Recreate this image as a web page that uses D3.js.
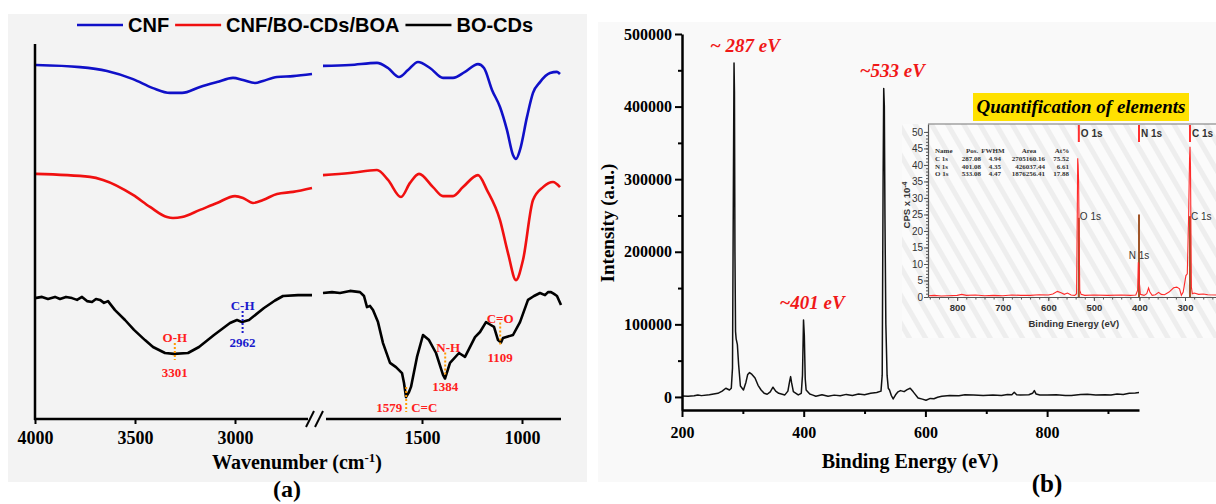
<!DOCTYPE html>
<html>
<head>
<meta charset="utf-8">
<script src="https://cdn.jsdelivr.net/npm/d3@7"></script>
<style>
  body { margin: 0; background: #fff; }
  svg { display: block; }
</style>
</head>
<body>
<svg id="fig" width="1216" height="504"></svg>
<script>
// ---- panel (a): FTIR, [wavenumber, offset transmittance (a.u.)] ----
const seriesNames = ['CNF', 'CNF/BO-CDs/BOA', 'BO-CDs'];
const wnTicksHigh = [4000, 3500, 3000];
const wnTicksLow = [1500, 1000];

const cnfHigh = [[3995,118],[3775,117.3],[3640,116],[3510,113.3],[3410,110.3],[3325,108.7],[3265,108.7],[3175,110.7],[3090,112.3],[3010,113.7],[2960,113],[2900,112],[2860,112.7],[2790,114],[2710,114.3],[2615,115]];
const cnfLow = [[1995,117.7],[1860,118],[1725,118.7],[1670,117],[1615,114],[1570,116.3],[1520,119],[1460,117],[1395,113.7],[1345,113.7],[1285,115.7],[1220,118.3],[1190,117],[1150,109.7],[1110,104],[1075,96.3],[1045,88],[1030,86.7],[1010,89.7],[975,100.7],[945,108.7],[910,112.3],[860,115.3],[825,115.7],[810,115]];
const compHigh = [[3995,81.7],[3725,80.7],[3660,79.7],[3510,74.7],[3425,70.7],[3340,67.3],[3310,67],[3265,67.3],[3175,69.7],[3090,72],[3000,74.3],[2960,73.7],[2910,72],[2860,73],[2790,75],[2710,75.7],[2615,77]];
const compLow = [[1995,81.3],[1860,82],[1725,83],[1670,79.7],[1605,74],[1560,78.7],[1515,81.7],[1445,77.3],[1395,74.3],[1345,74.3],[1295,77.3],[1220,81.3],[1175,76.3],[1110,66.3],[1070,55.3],[1030,46.3],[995,53],[945,73],[895,77.3],[845,79],[810,77.3]];
const cdsHigh = [[4000,40.3],[3965,40.7],[3935,40],[3900,40.7],[3875,40],[3845,40.7],[3815,40.3],[3790,39.7],[3765,40.7],[3740,39.3],[3715,39],[3695,40],[3675,39.7],[3655,38.7],[3635,39.3],[3600,36.3],[3550,33],[3505,29.7],[3450,26.3],[3410,24],[3350,22],[3305,21.7],[3235,22],[3180,24],[3105,28],[3025,32],[2990,33],[2965,32.3],[2930,33],[2855,37],[2800,39.5],[2760,41],[2685,41.3],[2615,41.3]];
const cdsLow = [[1995,42],[1950,42.3],[1910,42],[1860,42.7],[1810,42.3],[1790,41],[1775,37.3],[1760,37.7],[1745,36.3],[1720,32.3],[1695,25.3],[1660,18.7],[1630,17.3],[1600,15.3],[1590,12],[1580,7.3],[1565,9],[1555,10.7],[1525,20.7],[1495,28],[1465,26.3],[1430,22],[1395,14.7],[1385,13.5],[1360,18.7],[1315,22],[1285,20.7],[1235,27.3],[1210,29],[1180,32.3],[1160,31.5],[1140,30.7],[1120,26.3],[1105,25.5],[1095,27],[1045,28],[1010,32.3],[970,39.7],[940,41],[910,42],[885,41.3],[870,42.3],[855,42.3],[840,41.7],[825,41],[805,38]];

// band assignments on the BO-CDs trace
const bandWn = [3301, 2962, 1579, 1384, 1109];
const bandNames = ['O-H', 'C-H', 'C=C', 'N-H', 'C=O'];

// ---- panel (b): XPS survey, [binding energy eV, counts] ----
const beTicks = [200, 400, 600, 800];
const beMinor = [300, 500, 700, 900];
const cpsTicks = [0, 100000, 200000, 300000, 400000, 500000];
const cpsMinor = [50000, 150000, 250000, 350000, 450000];
const xps = [[200,1400],[210,1000],[220,1500],[226,2800],[232,1800],[245,3000],[259,5000],[266,8000],[272,12000],[278,9600],[281,12000],[283,40000],[284.5,300000],[285.5,460000],[286.2,420000],[287,200000],[288,90000],[289,80000],[291,72000],[293,45000],[296,15000],[301,9600],[305,20000],[308,31000],[311,33500],[315,31000],[320,26000],[325,16000],[330,9600],[335,5000],[340,3700],[345,7000],[349.5,13400],[354,8000],[359,5000],[369,2800],[374,8000],[377,22000],[378.5,28000],[380,20000],[383,7300],[391,2800],[396,5000],[398,30000],[399.7,106000],[401,85000],[402.5,25000],[404,9600],[410,4000],[414,2800],[420,1000],[430,3000],[440,1000],[450,2500],[460,1500],[470,3500],[480,2000],[490,4000],[500,3000],[510,5000],[520,6000],[527,8000],[529,30000],[530.5,300000],[531.5,425000],[532.5,400000],[533.5,250000],[535,100000],[537,30000],[539,12000],[541,9600],[544,2000],[547,-2800],[551,3000],[555,7000],[559,8700],[565,7300],[570,10000],[575,12000],[580,7000],[588,-1400],[595,-3000],[601,-4600],[608,-2000],[614,-2400],[620,-500],[627,800],[640,2000],[655,1500],[665,3000],[679,2800],[695,2000],[711,2800],[725,2000],[735,3500],[742,3000],[746,6400],[750,3000],[756,2800],[770,3000],[776,5000],[779,8700],[782,4000],[788,2800],[800,2500],[815,3000],[830,2000],[840,2000],[855,3500],[866,3700],[880,2500],[895,3000],[905,2800],[915,4000],[925,3500],[935,5000],[945,5500],[951,6000]];
const peakBE = [285.5, 531.5, 399.7];
const peakCounts = [460000, 425000, 106000];
const peakLabels = ['~ 287 eV', '~533 eV', '~401 eV'];

// ---- inset: quantification, [BE, CPS x 1e-4] ----
const insetTicksX = [800, 700, 600, 500, 400, 300];
const insetTicksY = [0, 5, 10, 15, 20, 25, 30, 35, 40, 45, 50];
const insetSpec = [[864,0.4],[850,0.5],[835,0.3],[820,0.4],[800,0.5],[790,0.8],[780,0.5],[760,0.6],[740,0.4],[720,0.5],[700,0.4],[680,0.6],[660,0.5],[640,0.5],[620,0.7],[600,0.6],[590,0.9],[580,1.7],[572,1.3],[565,0.8],[558,1.2],[550,0.6],[542,0.5],[538,1],[536.5,24],[535.5,42],[534.5,40],[533.5,35],[532.5,20],[531,2],[528,0.8],[520,0.5],[500,0.6],[470,0.5],[440,0.6],[420,0.5],[408,0.6],[404,2],[402.5,10.5],[401.5,10],[400,4],[398,0.8],[390,0.5],[384,1],[380,2.7],[377,1.5],[372,0.5],[365,0.7],[358,1.4],[352,0.8],[345,0.7],[335,1.5],[325,2.8],[318,3],[312,2.5],[308,0.5],[304,1.5],[298,6.5],[295,7],[292,25],[290,42],[289,45.5],[288,40],[287,20],[286,3],[284,1],[280,1.2],[270,0.8],[260,0.9],[250,0.7],[232,0.6]];
const quantNames = ['C 1s', 'N 1s', 'O 1s'];
const quantPos = ['287.08', '401.08', '533.08'];
const quantFwhm = ['4.94', '4.35', '4.47'];
const quantArea = ['2705160.16', '426037.44', '1876256.41'];
const quantAt = ['75.52', '6.61', '17.88'];
const markerBE = [289, 401, 533];   // C 1s, N 1s, O 1s component lines
const markerHeight = [24.5, 25, 24];

const SERIF = '"Liberation Serif", "Times New Roman", serif';
const SANS = '"Liberation Sans", Arial, sans-serif';

const svg = d3.select('#fig');

// backgrounds
svg.append('rect').attr('x', 8).attr('y', 14).attr('width', 579).attr('height', 468).attr('fill', '#f3f3f3');
svg.append('rect').attr('x', 598).attr('y', 22).attr('width', 618).attr('height', 460).attr('fill', '#f9f9f9');

// ================= panel (a) =================
const xHigh = d3.scaleLinear().domain([4000, 2600]).range([35, 315]);
const xLow = d3.scaleLinear().domain([2000, 800]).range([322, 562]);
const yA = d3.scaleLinear().domain([0, 125]).range([419, 44]);
const colorsA = ['#1010c8', '#f01010', '#000'];

const lineHigh = d3.line().x(d => xHigh(d[0])).y(d => yA(d[1])).curve(d3.curveMonotoneX);
const lineLow = d3.line().x(d => xLow(d[0])).y(d => yA(d[1])).curve(d3.curveMonotoneX);
const blackHigh = d3.line().x(d => xHigh(d[0])).y(d => yA(d[1]));
const blackLow = d3.line().x(d => xLow(d[0])).y(d => yA(d[1]));

const gA = svg.append('g');
[[cnfHigh, cnfLow], [compHigh, compLow]].forEach((pair, i) => {
  gA.append('path').attr('d', lineHigh(pair[0])).attr('fill', 'none').attr('stroke', colorsA[i]).attr('stroke-width', 2.6);
  gA.append('path').attr('d', lineLow(pair[1])).attr('fill', 'none').attr('stroke', colorsA[i]).attr('stroke-width', 2.6);
});
gA.append('path').attr('d', blackHigh(cdsHigh)).attr('fill', 'none').attr('stroke', '#000').attr('stroke-width', 2.6).attr('stroke-linejoin', 'round');
gA.append('path').attr('d', blackLow(cdsLow)).attr('fill', 'none').attr('stroke', '#000').attr('stroke-width', 2.6).attr('stroke-linejoin', 'round');

// axes
const axY = yA(0);
gA.append('line').attr('x1', xHigh(4000)).attr('x2', xHigh(4000)).attr('y1', yA(125)).attr('y2', axY + 1).attr('stroke', '#000').attr('stroke-width', 2.5);
gA.append('line').attr('x1', xHigh(4000) - 1).attr('x2', 308).attr('y1', axY).attr('y2', axY).attr('stroke', '#000').attr('stroke-width', 2.5);
gA.append('line').attr('x1', 326).attr('x2', xLow(805)).attr('y1', axY).attr('y2', axY).attr('stroke', '#000').attr('stroke-width', 2.5);
// break marks
[306, 315].forEach(bx => {
  gA.append('line').attr('x1', bx).attr('y1', axY + 8).attr('x2', bx + 8).attr('y2', axY - 8).attr('stroke', '#000').attr('stroke-width', 2);
});

const axHigh = gA.append('g').attr('transform', `translate(0,${axY})`)
  .call(d3.axisBottom(xHigh).tickValues(wnTicksHigh).tickSize(5).tickSizeOuter(0).tickFormat(d3.format('d')));
const axLow = gA.append('g').attr('transform', `translate(0,${axY})`)
  .call(d3.axisBottom(xLow).tickValues(wnTicksLow).tickSize(5).tickSizeOuter(0).tickFormat(d3.format('d')));
[axHigh, axLow].forEach(ax => {
  ax.select('.domain').remove();
  ax.selectAll('line').attr('stroke-width', 2);
  ax.selectAll('text').attr('font-family', SERIF).attr('font-weight', 'bold').attr('font-size', 18).attr('dy', '0.95em').attr('fill', '#000');
});

gA.append('text').attr('x', 297).attr('y', 469).attr('text-anchor', 'middle')
  .attr('font-family', SERIF).attr('font-weight', 'bold').attr('font-size', 20)
  .call(t => {
    t.append('tspan').text('Wavenumber (cm');
    t.append('tspan').attr('baseline-shift', 'super').attr('font-size', 13).text('-1');
    t.append('tspan').text(')');
  });
gA.append('text').attr('x', 287).attr('y', 497).attr('text-anchor', 'middle')
  .attr('font-family', SERIF).attr('font-weight', 'bold').attr('font-size', 24).text('(a)');

// legend
const leg = svg.append('g');
let lx = 77;
seriesNames.forEach((name, i) => {
  leg.append('line').attr('x1', lx).attr('x2', lx + 46).attr('y1', 25).attr('y2', 25).attr('stroke', colorsA[i]).attr('stroke-width', 2.6);
  const t = leg.append('text').attr('x', lx + 51).attr('y', 32).attr('font-family', SANS).attr('font-weight', 'bold').attr('font-size', 20).text(name);
  lx += 51 + t.node().getComputedTextLength() + 6;
});

// band annotations
const bandLayout = {
  'O-H': { dx: 0, name: -16, top: -11, bot: 6, num: 19, color: '#ff2020', line: '#ff9900' },
  'C-H': { dx: 0, name: -17, top: -11, bot: 11, num: 20, color: '#1a1acc', line: '#1a1acc' },
  'C=C': { side: true, top: -10, bot: 15, color: '#ff2020', line: '#ff9900' },
  'N-H': { dx: 3, name: -31, top: -26, bot: -3, num: 8, color: '#ff2020', line: '#ff9900' },
  'C=O': { dx: 0, name: -24, top: -20, bot: 3, num: 15, color: '#ff2020', line: '#ff9900' }
};
const cdsAll = cdsHigh.concat(cdsLow);
bandWn.forEach((wn, i) => {
  const name = bandNames[i];
  const lay = bandLayout[name];
  const bx = wn > 2300 ? xHigh(wn) : xLow(wn);
  // nearest curve value
  const near = cdsAll.reduce((a, b) => Math.abs(b[0] - wn) < Math.abs(a[0] - wn) ? b : a);
  const by = yA(near[1]);
  gA.append('line').attr('x1', bx).attr('x2', bx).attr('y1', by + lay.top).attr('y2', by + lay.bot)
    .attr('stroke', lay.line).attr('stroke-width', 2).attr('stroke-dasharray', '2,2');
  const txt = (s, x, y, anchor) => gA.append('text').attr('x', x).attr('y', y).attr('text-anchor', anchor)
    .attr('dominant-baseline', 'central').attr('font-family', SERIF).attr('font-weight', 'bold')
    .attr('font-size', 13).attr('fill', lay.color).text(s);
  if (lay.side) {
    txt(wn, bx - 4, by + 10, 'end');
    txt(name, bx + 5, by + 10, 'start');
  } else {
    txt(name, bx + lay.dx, by + lay.name, 'middle');
    txt(wn, bx, by + lay.num, 'middle');
  }
});

// ================= panel (b) =================
const xB = d3.scaleLinear().domain([200, 951]).range([682, 1139]);
const yB = d3.scaleLinear().domain([-18000, 500000]).range([410, 34]);
const gB = svg.append('g');

gB.append('path').datum(xps)
  .attr('d', d3.line().x(d => xB(d[0])).y(d => yB(d[1])))
  .attr('fill', 'none').attr('stroke', '#111').attr('stroke-width', 1.5).attr('stroke-linejoin', 'round');

const axBx = gB.append('g').attr('transform', `translate(0,${yB.range()[0]})`)
  .call(d3.axisBottom(xB).tickValues(beTicks).tickSize(7).tickSizeOuter(0));
gB.append('g').attr('transform', `translate(0,${yB.range()[0]})`)
  .call(d3.axisBottom(xB).tickValues(beMinor).tickSize(4).tickFormat('').tickSizeOuter(0))
  .call(g => g.select('.domain').remove()).selectAll('line').attr('stroke-width', 2);
const axBy = gB.append('g').attr('transform', `translate(${xB.range()[0]},0)`)
  .call(d3.axisLeft(yB).tickValues(cpsTicks).tickSize(7).tickSizeOuter(0).tickFormat(d3.format('d')));
gB.append('g').attr('transform', `translate(${xB.range()[0]},0)`)
  .call(d3.axisLeft(yB).tickValues(cpsMinor).tickSize(4).tickFormat('').tickSizeOuter(0))
  .call(g => g.select('.domain').remove()).selectAll('line').attr('stroke-width', 2);
[axBx, axBy].forEach(ax => {
  ax.select('.domain').attr('stroke-width', 2.5);
  ax.selectAll('.tick line').attr('stroke-width', 2);
  ax.selectAll('text').attr('font-family', SERIF).attr('font-weight', 'bold').attr('font-size', 16).attr('fill', '#000');
});
axBx.selectAll('text').attr('dy', '1.15em');
axBy.selectAll('text').attr('x', -10);

gB.append('text').attr('transform', 'translate(614,223) rotate(-90)').attr('text-anchor', 'middle')
  .attr('font-family', SERIF).attr('font-weight', 'bold').attr('font-size', 19).text('Intensity (a.u.)');
gB.append('text').attr('x', 910).attr('y', 468).attr('text-anchor', 'middle')
  .attr('font-family', SERIF).attr('font-weight', 'bold').attr('font-size', 20).text('Binding Energy (eV)');
gB.append('text').attr('x', 1047).attr('y', 492).attr('text-anchor', 'middle')
  .attr('font-family', SERIF).attr('font-weight', 'bold').attr('font-size', 25).text('(b)');

peakBE.forEach((be, i) => {
  gB.append('text').attr('x', xB(be) - 24).attr('y', yB(peakCounts[i]) - 11)
    .attr('font-family', SERIF).attr('font-weight', 'bold').attr('font-style', 'italic')
    .attr('font-size', 19).attr('fill', '#f01818').text(peakLabels[i]);
});

// ================= inset =================
const defs = svg.append('defs');
const pat = defs.append('pattern').attr('id', 'hatch').attr('patternUnits', 'userSpaceOnUse')
  .attr('width', 14).attr('height', 14).attr('patternTransform', 'rotate(-30)');
pat.append('rect').attr('width', 14).attr('height', 14).attr('fill', '#fbfbfb');
pat.append('rect').attr('width', 5).attr('height', 14).attr('fill', '#eeeeee');

const gI = svg.append('g');
gI.append('rect').attr('x', 902).attr('y', 124).attr('width', 314).attr('height', 214).attr('fill', 'url(#hatch)');

const xI = d3.scaleLinear().domain([864, 232]).range([928, 1216]);
const yI = d3.scaleLinear().domain([0, 52.4]).range([297, 124]);

gI.append('line').attr('x1', xI.range()[0]).attr('x2', 1216).attr('y1', 124).attr('y2', 124).attr('stroke', '#777').attr('stroke-width', 1.2);

// component lines
markerBE.forEach((be, i) => {
  gI.append('line').attr('x1', xI(be)).attr('x2', xI(be)).attr('y1', yI(0)).attr('y2', yI(markerHeight[i]))
    .attr('stroke', '#a0562a').attr('stroke-width', 2);
});

gI.append('path').datum(insetSpec)
  .attr('d', d3.line().x(d => xI(d[0])).y(d => yI(d[1])))
  .attr('fill', 'none').attr('stroke', '#ff2a2a').attr('stroke-width', 1.1);

// top markers + labels
const markerNames = ['C 1s', 'N 1s', 'O 1s'];
markerBE.forEach((be, i) => {
  const mx = xI(be);
  gI.append('line').attr('x1', mx).attr('x2', mx).attr('y1', 125).attr('y2', 142).attr('stroke', '#ff3030').attr('stroke-width', 2);
  gI.append('text').attr('x', mx + 2).attr('y', 137).attr('font-family', SANS).attr('font-weight', 'bold')
    .attr('font-size', 10).attr('fill', '#333').text(markerNames[i]);
});
// in-plot peak labels
gI.append('text').attr('x', xI(533) + 1).attr('y', yI(23.3)).attr('font-family', SANS).attr('font-size', 10).attr('fill', '#333').text('O 1s');
gI.append('text').attr('x', xI(289) + 1).attr('y', yI(23.3)).attr('font-family', SANS).attr('font-size', 10).attr('fill', '#333').text('C 1s');
gI.append('text').attr('x', xI(401)).attr('y', yI(11.5)).attr('text-anchor', 'middle').attr('font-family', SANS).attr('font-size', 10).attr('fill', '#333').text('N 1s');

const axIx = gI.append('g').attr('transform', `translate(0,${yI(0)})`)
  .call(d3.axisBottom(xI).tickValues(insetTicksX).tickSize(4).tickSizeOuter(0));
gI.append('g').attr('transform', `translate(0,${yI(0)})`)
  .call(d3.axisBottom(xI).tickValues(d3.range(860, 230, -20)).tickSize(2.5).tickFormat('').tickSizeOuter(0))
  .call(g => g.select('.domain').remove()).selectAll('line').attr('stroke', '#555');
const axIy = gI.append('g').attr('transform', `translate(${xI.range()[0]},0)`)
  .call(d3.axisLeft(yI).tickValues(insetTicksY).tickSize(4).tickSizeOuter(0));
gI.append('g').attr('transform', `translate(${xI.range()[0]},0)`)
  .call(d3.axisLeft(yI).tickValues(d3.range(0, 51, 1)).tickSize(2).tickFormat('').tickSizeOuter(0))
  .call(g => g.select('.domain').remove()).selectAll('line').attr('stroke', '#555');
[axIx, axIy].forEach(ax => {
  ax.select('.domain').attr('stroke', '#555').attr('stroke-width', 1.2);
  ax.selectAll('.tick line').attr('stroke', '#555');
  ax.selectAll('text').attr('font-family', SANS).attr('font-size', 10).attr('fill', '#333');
});
axIx.selectAll('text').attr('font-weight', 'bold').attr('font-size', 9.5);
axIy.selectAll('text').attr('x', -5);

gI.append('text').attr('x', xI(500) - 20).attr('y', 327).attr('text-anchor', 'middle')
  .attr('font-family', SANS).attr('font-weight', 'bold').attr('font-size', 9.5).attr('fill', '#333').text('Binding Energy (eV)');
gI.append('text').attr('transform', 'translate(910,205) rotate(-90)').attr('text-anchor', 'middle')
  .attr('font-family', SANS).attr('font-weight', 'bold').attr('font-size', 9.5).attr('fill', '#333')
  .call(t => {
    t.append('tspan').text('CPS x 10');
    t.append('tspan').attr('baseline-shift', 'super').attr('font-size', 7).text('-4');
  });

// quantification table
const tbl = gI.append('g').attr('font-family', SERIF).attr('font-weight', 'bold').attr('font-size', 7).attr('fill', '#333');
const headX = [935, 972, 993, 1029, 1062];
const head = ['Name', 'Pos.', 'FWHM', 'Area', 'At%'];
head.forEach((h, c) => {
  tbl.append('text').attr('x', headX[c]).attr('y', 153).attr('text-anchor', c === 0 ? 'start' : 'middle').text(h);
});
const colX = [935, 981, 1001, 1045, 1069];
quantNames.forEach((n, r) => {
  const row = [n, quantPos[r], quantFwhm[r], quantArea[r], quantAt[r]];
  row.forEach((v, c) => {
    tbl.append('text').attr('x', colX[c]).attr('y', 161 + r * 7.6).attr('text-anchor', c === 0 ? 'start' : 'end').text(v);
  });
});

// title box
gI.append('rect').attr('x', 973).attr('y', 93).attr('width', 216).attr('height', 28).attr('fill', '#ffe100');
gI.append('text').attr('x', 1081).attr('y', 113).attr('text-anchor', 'middle')
  .attr('font-family', SERIF).attr('font-weight', 'bold').attr('font-style', 'italic').attr('font-size', 19)
  .text('Quantification of elements');
</script>
</body>
</html>
